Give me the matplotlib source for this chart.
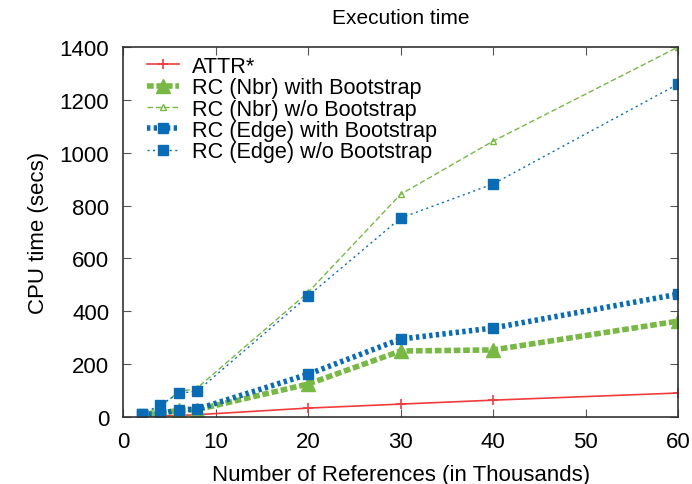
import matplotlib
matplotlib.use('Agg')
import matplotlib.pyplot as plt

plt.rcParams['font.family'] = ['Liberation Sans', 'DejaVu Sans']

refs = [2, 4, 6, 8, 20, 30, 40, 60]
attr = [2, 4, 6, 9, 34, 49, 64, 91]
nbr_boot = [5, 15, 25, 28, 125, 250, 254, 363]
nbr_noboot = [5, 40, 95, 110, 472, 843, 1044, 1400]
edge_boot = [10, 12, 28, 30, 162, 295, 337, 465]
edge_noboot = [12, 45, 90, 98, 458, 753, 882, 1260]

RED = '#f03c3c'
GREEN = '#78b844'
BLUE = '#0a6cb4'

fig = plt.figure(figsize=(6.92, 4.85), dpi=100)
ax = fig.add_axes([0.178, 0.138, 0.802, 0.763])

ax.plot(refs, attr, color=RED, lw=1.2, marker='+', ms=7, mew=1.2, label='ATTR*')
ax.plot(refs, nbr_boot, color=GREEN, lw=4, ls=(0, (1.2, 0.5)), marker='^', ms=10,
        label='RC (Nbr) with Bootstrap')
ax.plot(refs, nbr_noboot, color=GREEN, lw=1, ls=(0, (4, 2)), marker='^', ms=5,
        mfc='none', mew=1, label='RC (Nbr) w/o Bootstrap')
ax.plot(refs, edge_boot, color=BLUE, lw=4, ls=(0, (0.6, 0.6)), marker='s', ms=7,
        label='RC (Edge) with Bootstrap')
ax.plot(refs, edge_noboot, color=BLUE, lw=1, ls=(0, (1.5, 2.5)), marker='s', ms=7,
        label='RC (Edge) w/o Bootstrap')

ax.set_xlim(0, 60)
ax.set_ylim(0, 1400)
ax.set_xticks(range(0, 61, 10))
ax.set_yticks(range(0, 1401, 200))
ax.tick_params(direction='in', length=6, labelsize=16, top=True, right=True,
               color='#555555', pad=10)
for s in ax.spines.values():
    s.set_color('#333333')
    s.set_linewidth(1.2)

ax.set_xlabel('Number of References (in Thousands)', fontsize=16, labelpad=9)
ax.set_ylabel('CPU time (secs)', fontsize=16, labelpad=8)
ax.set_title('Execution time', fontsize=15, pad=17)

ax.legend(loc='upper left', frameon=False, fontsize=15.6, handlelength=1.5,
          labelspacing=0.02, borderaxespad=0.0, handletextpad=0.6,
          bbox_to_anchor=(0.027, 1.0))

fig.savefig('out.png', dpi=100)
